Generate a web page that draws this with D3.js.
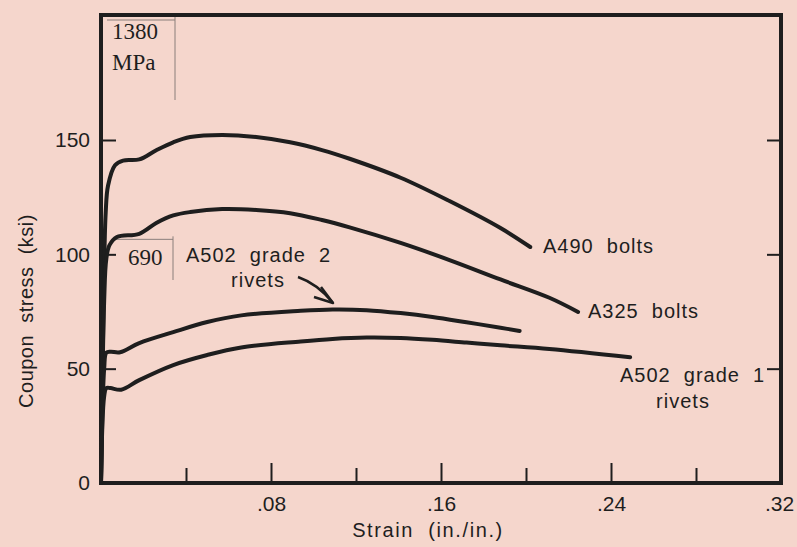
<!DOCTYPE html>
<html><head><meta charset="utf-8">
<script src="https://cdn.jsdelivr.net/npm/d3@7"></script>
<style>
html,body{margin:0;padding:0;background:#f5d6cc;}
svg{display:block;}
text{font-family:"Liberation Sans",Arial,sans-serif;fill:#1e1e1e;white-space:pre;}
</style></head>
<body>
<svg id="c" width="797" height="547"></svg>
<script>
// ---- data: [strain (in./in.), stress (ksi)] ----
const a490 = [[0,0],[0.0015,95],[0.0022,118],[0.0033,130],[0.0066,139],[0.0104,141],[0.018,141.5],[0.026,145.5],[0.034,149],[0.042,151.3],[0.057,152.2],[0.073,151.3],[0.089,149],[0.104,145.6],[0.117,141.8],[0.141,133.5],[0.164,123.3],[0.188,111.5],[0.202,103.2]];
const a325 = [[0,0],[0.0015,80],[0.0025,98],[0.004,104],[0.0075,107.6],[0.018,109],[0.026,113.7],[0.034,117],[0.042,118.5],[0.057,119.8],[0.073,119.4],[0.089,118],[0.104,115],[0.117,111.8],[0.141,105],[0.164,97.5],[0.188,89],[0.211,81],[0.2245,74.8]];
const a502g2 = [[0,0],[0.0015,50],[0.0025,57],[0.0045,57.4],[0.009,57.2],[0.018,61.2],[0.034,66],[0.05,70.4],[0.066,73.3],[0.094,75.3],[0.109,75.9],[0.125,75.6],[0.141,74.3],[0.156,72.6],[0.172,70.3],[0.188,67.9],[0.197,66.5]];
const a502g1 = [[0,0],[0.0015,38],[0.0025,41.5],[0.0045,41.5],[0.0095,40.8],[0.018,45],[0.034,51.6],[0.05,56],[0.066,59.3],[0.094,61.9],[0.109,63],[0.125,63.6],[0.141,63.4],[0.156,62.6],[0.172,61.4],[0.188,60.2],[0.211,58.6],[0.249,55]];
const seriesNames = ["A490 bolts","A325 bolts","A502 grade 2 rivets","A502 grade 1 rivets"];
const xMajorTicks = [0.08,0.16,0.24,0.32];
const xMinorTicks = [0.04,0.12,0.20,0.28];
const yTicks = [0,50,100,150];
const yRightTicks = [50,100,150];
const xDomain = [0,0.32];
const yDomain = [0,150];

const svg = d3.select("#c");
const L=101, R=781, T=15, B=483;
const x = d3.scaleLinear().domain(xDomain).range([L,R]);
const y = d3.scaleLinear().domain(yDomain).range([B,140]);
const ink="#1e1e1e";

// frame
svg.append("rect").attr("x",L).attr("y",T).attr("width",R-L).attr("height",B-T)
  .attr("fill","none").attr("stroke",ink).attr("stroke-width",4);

// x axis ticks
const gxMinor = svg.append("g").attr("transform",`translate(0,${B})`)
  .call(d3.axisBottom(x).tickValues(xMinorTicks).tickSize(-15).tickFormat(""));
const gxMajor = svg.append("g").attr("transform",`translate(0,${B})`)
  .call(d3.axisBottom(x).tickValues(xMajorTicks).tickSize(-20).tickPadding(12)
     .tickFormat(d=>d3.format(".2f")(d).replace(/^0/,"")));
[gxMinor,gxMajor].forEach(g=>{g.select(".domain").remove();
  g.selectAll("line").attr("stroke",ink).attr("stroke-width",2);});
gxMajor.selectAll("text").attr("font-size",21).attr("fill",ink)
  .style("font-family","Liberation Sans, Arial, sans-serif").attr("dy","0.75em");
gxMajor.selectAll(".tick").filter(d=>d===0.32).select("text").attr("dx",-2);
gxMajor.selectAll(".tick").filter(d=>d===0.32).select("line").remove();

// y axis left
const gy = svg.append("g").attr("transform",`translate(${L},0)`)
  .call(d3.axisLeft(y).tickValues(yTicks).tickSize(-15).tickPadding(11));
gy.select(".domain").remove();
gy.selectAll("line").attr("stroke",ink).attr("stroke-width",2);
gy.selectAll("text").attr("font-size",21).attr("fill",ink)
  .style("font-family","Liberation Sans, Arial, sans-serif");
// y axis right
const gyr = svg.append("g").attr("transform",`translate(${R},0)`)
  .call(d3.axisRight(y).tickValues(yRightTicks).tickSize(-14).tickFormat(""));
gyr.select(".domain").remove();
gyr.selectAll("line").attr("stroke",ink).attr("stroke-width",2);

// MPa reference brackets
const brk="#8a7f7b";
svg.append("path").attr("d",`M107,20 H175 M175,17 V100`).attr("fill","none").attr("stroke",brk).attr("stroke-width",1);
svg.append("path").attr("d",`M114,${y(100)-15} H173 M173,${y(100)-18} V280`).attr("fill","none").attr("stroke",brk).attr("stroke-width",1);
const serif = "Liberation Serif, Times New Roman, serif";
svg.append("text").attr("x",112).attr("y",39).attr("font-size",23).style("font-family",serif).text("1380");
svg.append("text").attr("x",112).attr("y",70).attr("font-size",23).style("font-family",serif).text("MPa");
svg.append("text").attr("x",128).attr("y",265).attr("font-size",23).style("font-family",serif).text("690");

// curves
const line = d3.line().x(d=>x(d[0])).y(d=>y(d[1])).curve(d3.curveCatmullRom.alpha(0.5));
[a490,a325,a502g2,a502g1].forEach(s=>{
  svg.append("path").datum(s).attr("d",line).attr("fill","none")
    .attr("stroke",ink).attr("stroke-width",4).attr("stroke-linecap","round").attr("stroke-linejoin","round");
});

// labels
const lab = (t,xx,yy,anchor)=>svg.append("text").attr("x",xx).attr("y",yy).attr("font-size",20)
   .attr("text-anchor",anchor||"start").attr("letter-spacing",1).text(t);
lab("A490  bolts",543,253);
lab("A325  bolts",588,318);
lab("A502  grade  1",620,382);
lab("rivets",683,408,"middle");
lab("A502  grade  2",186,262);
lab("rivets",258,287,"middle");

// arrow for grade 2
svg.append("path").attr("d","M298,277 Q318,284 333,303").attr("fill","none").attr("stroke",ink).attr("stroke-width",2.5);
svg.append("path").attr("d","M321,287 L333,303 L314,297").attr("fill","none").attr("stroke",ink).attr("stroke-width",2.5).attr("stroke-linejoin","round");

// axis titles
svg.append("text").attr("x",428).attr("y",537).attr("font-size",20).attr("text-anchor","middle")
  .attr("letter-spacing",1.6).text("Strain  (in./in.)");
svg.append("text").attr("transform","translate(33,311) rotate(-90)").attr("font-size",20)
  .attr("text-anchor","middle").attr("letter-spacing",0.5).text("Coupon  stress  (ksi)");
</script>
</body></html>
